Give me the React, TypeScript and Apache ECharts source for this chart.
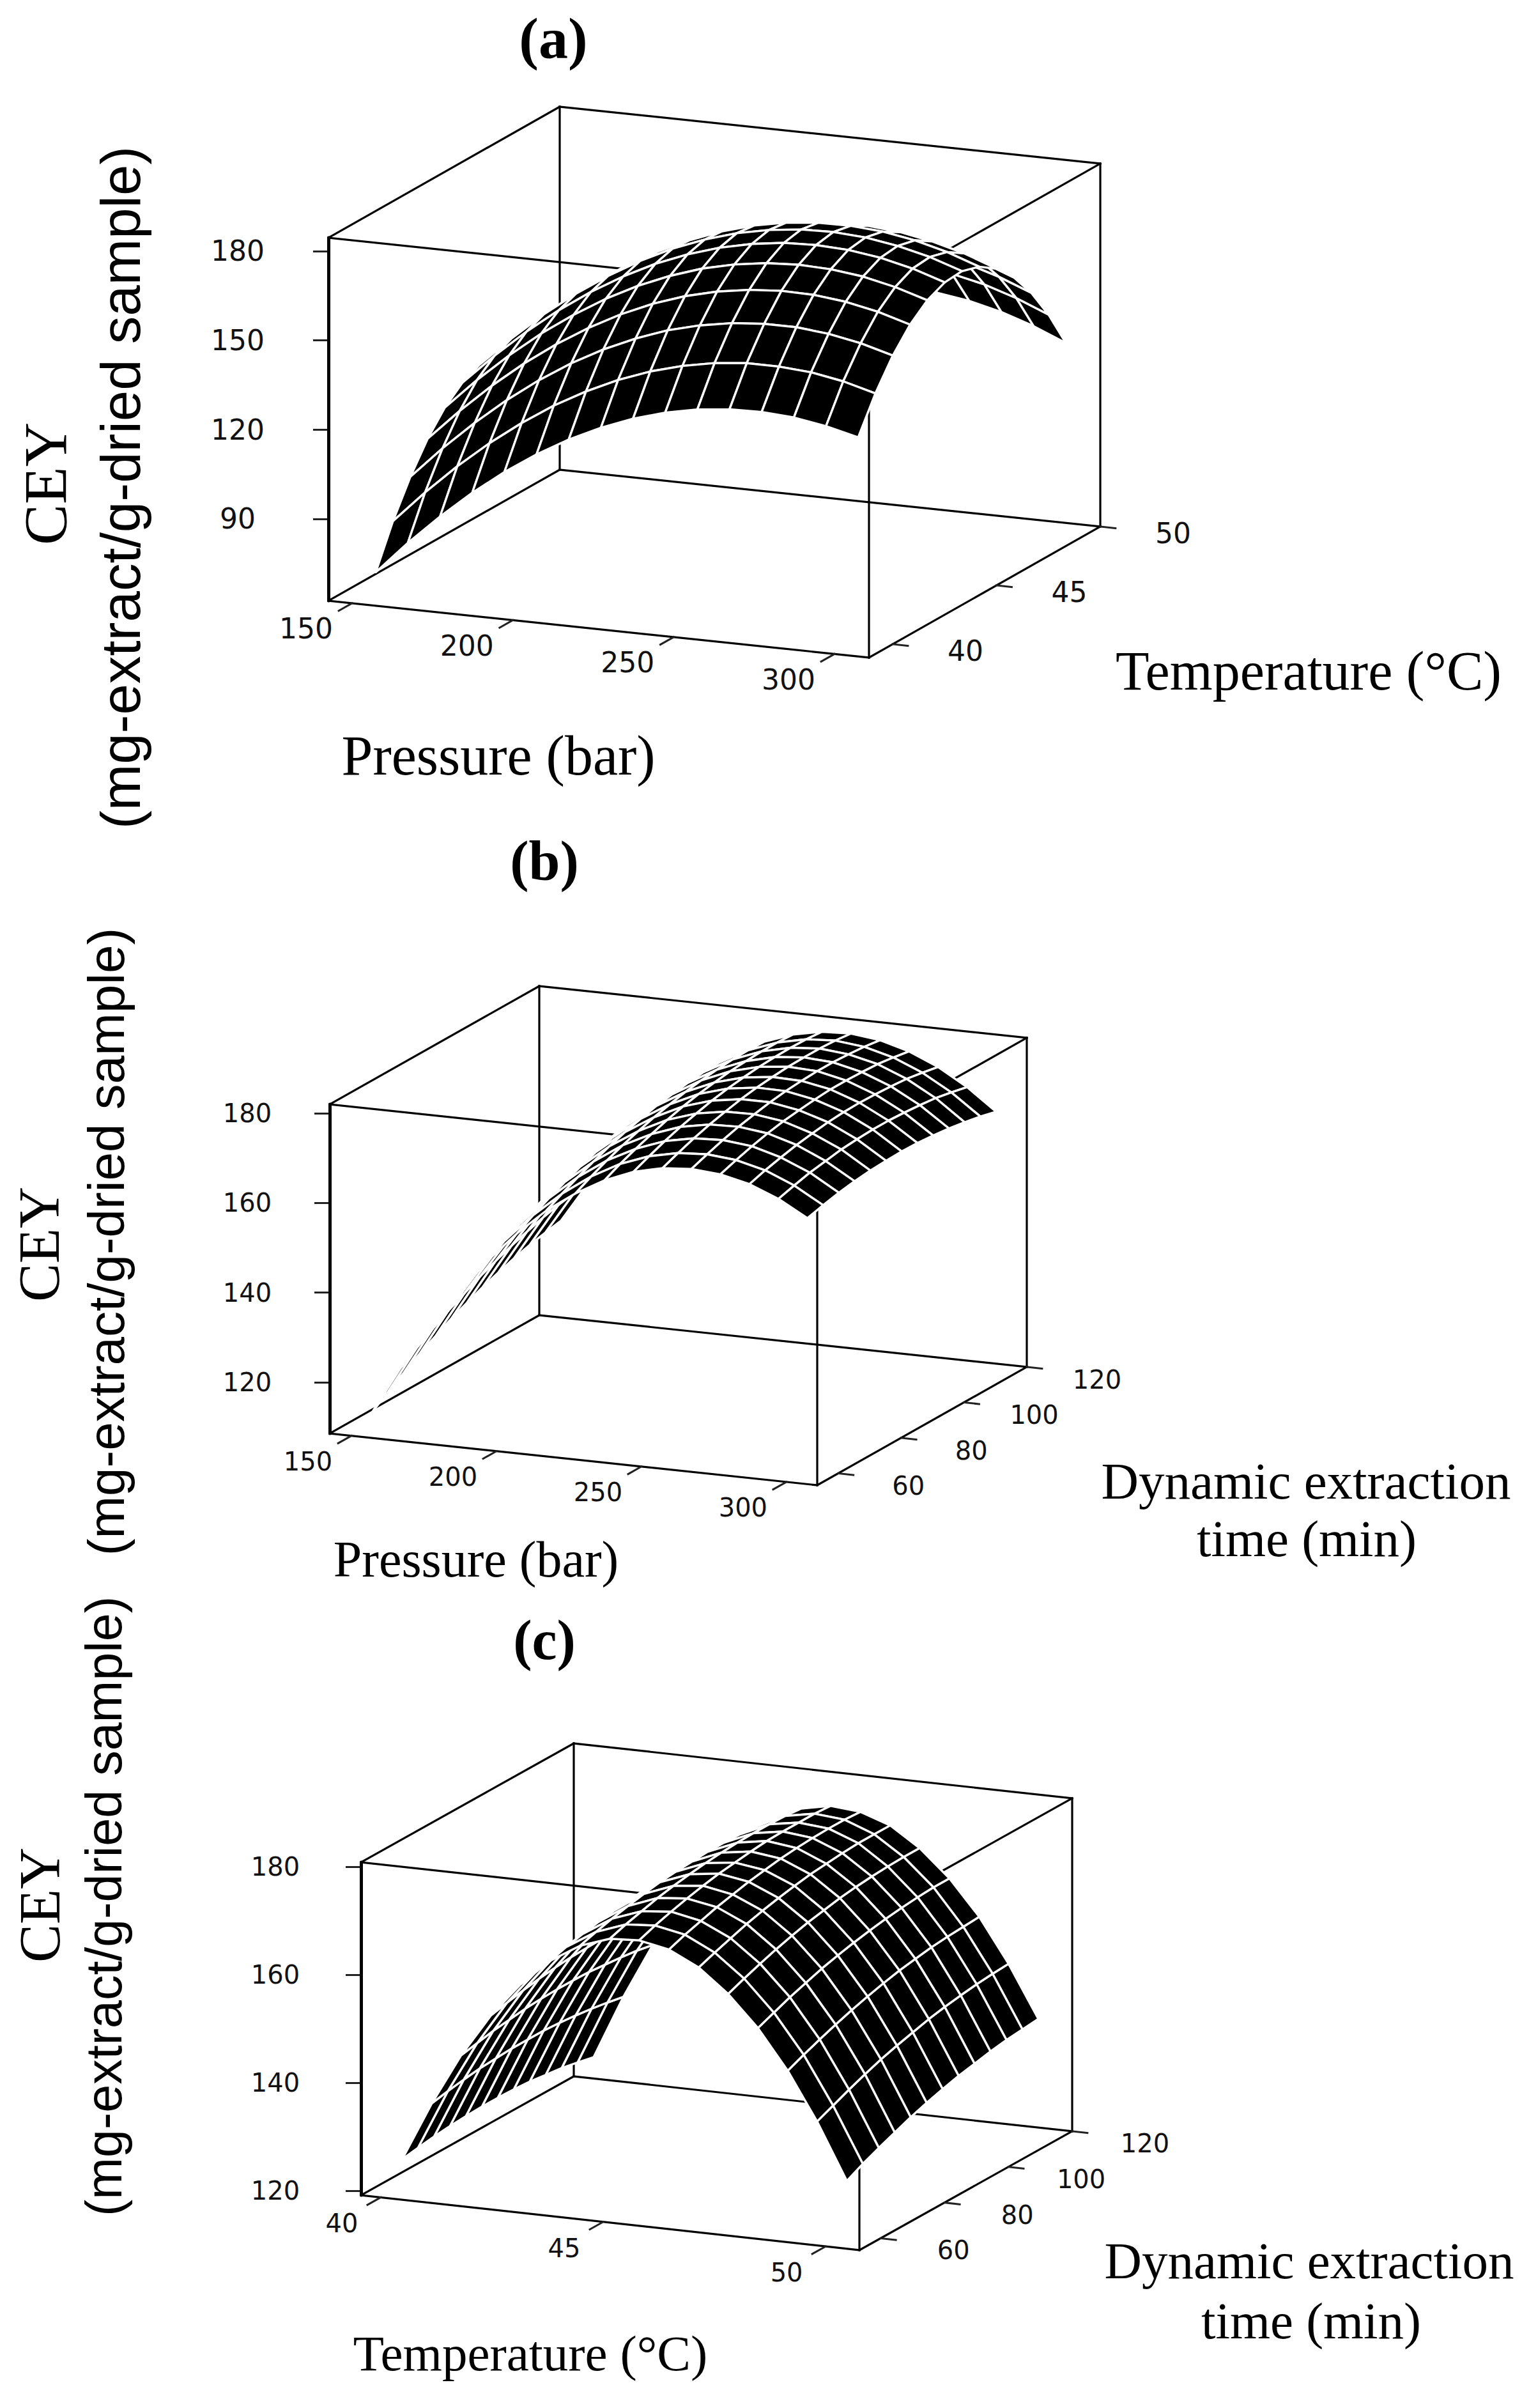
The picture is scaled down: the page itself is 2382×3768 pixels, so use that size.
import React, { useEffect, useRef } from "react";
import * as echarts from "echarts";

const PAGE_W = 2382;
const PAGE_H = 3768;

// ---------------- Panel (a): Pressure x Temperature ----------------
const PRESSURE_A = [150, 160, 170, 180, 190, 200, 210, 220, 230, 240, 250, 260, 270, 280, 290, 300];
const TEMPERATURE_A = [40, 40.83, 41.67, 42.5, 43.33, 44.17, 45, 45.83, 46.67, 47.5, 48.33, 49.17, 50];
const CEY_A = [
  [68.4, 79.4, 89.4, 98.5, 106.6, 113.7, 119.8, 124.9, 129.1, 132.3, 134.5, 135.7, 135.9, 135.2, 133.4, 130.8],
  [82.3, 93.1, 103.0, 111.9, 119.8, 126.8, 132.7, 137.7, 141.7, 144.7, 146.8, 147.9, 147.9, 147.1, 145.2, 142.3],
  [93.9, 104.6, 114.3, 123.1, 130.9, 137.7, 143.5, 148.3, 152.2, 155.0, 156.9, 157.8, 157.8, 156.7, 154.7, 151.7],
  [103.4, 113.9, 123.5, 132.1, 139.7, 146.3, 152.0, 156.7, 160.4, 163.1, 164.8, 165.6, 165.4, 164.2, 162.0, 158.8],
  [110.6, 121.0, 130.4, 138.9, 146.3, 152.8, 158.3, 162.8, 166.4, 168.9, 170.5, 171.1, 170.7, 169.4, 167.0, 163.7],
  [115.6, 125.8, 135.1, 143.4, 150.7, 157.0, 162.4, 166.7, 170.1, 172.5, 174.0, 174.4, 173.9, 172.4, 169.9, 166.4],
  [118.4, 128.4, 137.6, 145.7, 152.8, 159.0, 164.2, 168.4, 171.7, 173.9, 175.2, 175.5, 174.8, 173.1, 170.5, 166.9],
  [118.9, 128.8, 137.8, 145.8, 152.8, 158.8, 163.8, 167.9, 171.0, 173.1, 174.2, 174.3, 173.5, 171.7, 168.9, 165.1],
  [117.2, 127.0, 135.8, 143.7, 150.5, 156.4, 161.3, 165.2, 168.1, 170.0, 171.0, 171.0, 170.0, 168.0, 165.1, 161.1],
  [113.4, 123.0, 131.6, 139.3, 146.0, 151.7, 156.4, 160.2, 163.0, 164.7, 165.6, 165.4, 164.2, 162.1, 159.0, 154.9],
  [107.2, 116.7, 125.2, 132.7, 139.3, 144.8, 149.4, 153.0, 155.6, 157.2, 157.9, 157.6, 156.3, 154.0, 150.7, 146.5],
  [98.9, 108.2, 116.6, 123.9, 130.3, 135.7, 140.1, 143.6, 146.0, 147.5, 148.0, 147.6, 146.1, 143.7, 140.2, 135.8],
  [88.3, 97.5, 105.7, 112.9, 119.1, 124.4, 128.7, 131.9, 134.3, 135.6, 135.9, 135.3, 133.7, 131.1, 127.5, 123.0],
];
const PRESSURE_TICKS_A = [150, 200, 250, 300];
const TEMPERATURE_TICKS_A = [40, 45, 50];
const CEY_TICKS_A = [90, 120, 150, 180];

// ---------------- Panel (b): Pressure x Dynamic extraction time ----------------
const PRESSURE_B = [150, 160, 170, 180, 190, 200, 210, 220, 230, 240, 250, 260, 270, 280, 290, 300];
const TIME_B = [60, 65, 70, 75, 80, 85, 90, 95, 100, 105, 110, 115, 120];
const CEY_B = [
  [111.3, 122.0, 131.7, 140.4, 148.0, 154.6, 160.3, 164.8, 168.4, 171.0, 172.5, 173.0, 172.5, 171.0, 168.4, 164.8],
  [113.8, 124.4, 134.0, 142.5, 150.1, 156.6, 162.1, 166.6, 170.1, 172.5, 173.9, 174.3, 173.7, 172.1, 169.4, 165.7],
  [116.1, 126.6, 136.1, 144.5, 152.0, 158.4, 163.8, 168.2, 171.5, 173.9, 175.2, 175.5, 174.8, 173.0, 170.3, 166.5],
  [118.3, 128.7, 138.0, 146.4, 153.7, 160.0, 165.3, 169.6, 172.8, 175.1, 176.3, 176.5, 175.7, 173.8, 170.9, 167.1],
  [120.2, 130.5, 139.8, 148.1, 155.3, 161.5, 166.7, 170.8, 174.0, 176.1, 177.2, 177.3, 176.4, 174.4, 171.5, 167.5],
  [122.1, 132.3, 141.4, 149.6, 156.7, 162.8, 167.9, 171.9, 175.0, 177.0, 178.0, 178.0, 176.9, 174.9, 171.8, 167.7],
  [123.7, 133.8, 142.9, 150.9, 157.9, 163.9, 168.9, 172.8, 175.8, 177.7, 178.6, 178.5, 177.3, 175.2, 172.0, 167.8],
  [125.2, 135.2, 144.1, 152.1, 159.0, 164.9, 169.8, 173.6, 176.4, 178.2, 179.0, 178.8, 177.6, 175.3, 172.0, 167.7],
  [126.5, 136.4, 145.3, 153.1, 159.9, 165.7, 170.4, 174.2, 176.9, 178.6, 179.3, 179.0, 177.6, 175.2, 171.8, 167.4],
  [127.7, 137.5, 146.2, 153.9, 160.6, 166.3, 171.0, 174.6, 177.2, 178.8, 179.4, 179.0, 177.5, 175.0, 171.5, 167.0],
  [128.7, 138.4, 147.0, 154.6, 161.2, 166.8, 171.4, 174.9, 177.4, 178.9, 179.4, 178.8, 177.3, 174.7, 171.1, 166.4],
  [129.5, 139.1, 147.6, 155.1, 161.6, 167.1, 171.6, 175.0, 177.4, 178.8, 179.2, 178.5, 176.8, 174.1, 170.4, 165.7],
  [130.2, 139.7, 148.1, 155.5, 161.9, 167.2, 171.6, 174.9, 177.2, 178.5, 178.8, 178.0, 176.2, 173.4, 169.6, 164.8],
];
const PRESSURE_TICKS_B = [150, 200, 250, 300];
const TIME_TICKS_B = [60, 80, 100, 120];
const CEY_TICKS_B = [120, 140, 160, 180];

// ---------------- Panel (c): Temperature x Dynamic extraction time ----------------
const TEMPERATURE_C = [40, 40.67, 41.33, 42, 42.67, 43.33, 44, 44.67, 45.33, 46, 46.67, 47.33, 48, 48.67, 49.33, 50];
const TIME_C = [60, 65, 70, 75, 80, 85, 90, 95, 100, 105, 110, 115, 120];
const CEY_C = [
  [124.0, 135.0, 144.5, 152.5, 158.9, 163.8, 167.2, 169.1, 169.4, 168.3, 165.6, 161.3, 155.6, 148.3, 139.5, 129.1],
  [124.5, 135.6, 145.1, 153.2, 159.7, 164.7, 168.1, 170.1, 170.5, 169.4, 166.7, 162.5, 156.8, 149.6, 140.8, 130.6],
  [124.9, 136.1, 145.7, 153.8, 160.4, 165.4, 168.9, 170.9, 171.4, 170.3, 167.7, 163.6, 158.0, 150.8, 142.1, 131.9],
  [125.2, 136.5, 146.1, 154.3, 160.9, 166.0, 169.6, 171.7, 172.2, 171.2, 168.7, 164.6, 159.0, 151.9, 143.3, 133.1],
  [125.4, 136.7, 146.5, 154.7, 161.4, 166.5, 170.2, 172.3, 172.9, 171.9, 169.5, 165.5, 160.0, 152.9, 144.4, 134.3],
  [125.5, 136.9, 146.7, 155.0, 161.7, 166.9, 170.7, 172.8, 173.5, 172.6, 170.2, 166.3, 160.8, 153.8, 145.3, 135.3],
  [125.5, 136.9, 146.8, 155.1, 161.9, 167.2, 171.0, 173.2, 173.9, 173.1, 170.8, 166.9, 161.5, 154.6, 146.1, 136.2],
  [125.4, 136.9, 146.8, 155.2, 162.1, 167.4, 171.2, 173.5, 174.3, 173.6, 171.3, 167.5, 162.1, 155.3, 146.9, 137.0],
  [125.2, 136.7, 146.7, 155.1, 162.1, 167.5, 171.4, 173.7, 174.6, 173.9, 171.6, 167.9, 162.6, 155.8, 147.5, 137.6],
  [124.8, 136.4, 146.4, 155.0, 162.0, 167.4, 171.4, 173.8, 174.7, 174.1, 171.9, 168.2, 163.0, 156.3, 148.0, 138.2],
  [124.4, 136.0, 146.1, 154.7, 161.8, 167.3, 171.3, 173.8, 174.7, 174.2, 172.1, 168.4, 163.3, 156.6, 148.4, 138.7],
  [123.8, 135.5, 145.7, 154.3, 161.4, 167.0, 171.1, 173.7, 174.7, 174.2, 172.1, 168.5, 163.5, 156.8, 148.7, 139.0],
  [123.1, 134.9, 145.1, 153.8, 161.0, 166.7, 170.8, 173.4, 174.5, 174.0, 172.1, 168.5, 163.5, 157.0, 148.9, 139.3],
];
const TEMPERATURE_TICKS_C = [40, 45, 50];
const TIME_TICKS_C = [60, 80, 100, 120];
const CEY_TICKS_C = [120, 140, 160, 180];

// ---------------- layout (positions / styles only) ----------------
type Panel = {
  xs: number[]; ys: number[]; zs: number[][];
  xTicks: number[]; yTicks: number[]; zTicks: number[];
  xRange: [number, number]; yRange: [number, number]; zRange: [number, number];
  origin: [number, number]; ex: [number, number]; ey: [number, number]; ezLen: number;
  tickFont: number; zLabelMargin: number; zLabelLift: number;
  xLabelOff: [number, number]; yLabelOff: [number, number];
};

const PANELS: Panel[] = [
  {
    xs: PRESSURE_A, ys: TEMPERATURE_A, zs: CEY_A,
    xTicks: PRESSURE_TICKS_A, yTicks: TEMPERATURE_TICKS_A, zTicks: CEY_TICKS_A,
    xRange: [142.65, 310.72], yRange: [38.86, 50], zRange: [62.5, 184.5],
    origin: [514, 940], ex: [846, 89], ey: [362, -205], ezLen: 568,
    tickFont: 44, zLabelMargin: 142, zLabelLift: 15, xLabelOff: [-72, 40], yLabelOff: [114, 10],
  },
  {
    xs: PRESSURE_B, ys: TIME_B, zs: CEY_B,
    xTicks: PRESSURE_TICKS_B, yTicks: TIME_TICKS_B, zTicks: CEY_TICKS_B,
    xRange: [142.5, 310.6], yRange: [53.33, 120], zRange: [108.6, 182.0],
    origin: [516, 2243], ex: [763, 81], ey: [328, -185], ezLen: 515,
    tickFont: 40, zLabelMargin: 129, zLabelLift: 12, xLabelOff: [-68, 40], yLabelOff: [110, 20],
  },
  {
    xs: TEMPERATURE_C, ys: TIME_C, zs: CEY_C,
    xTicks: TEMPERATURE_TICKS_C, yTicks: TIME_TICKS_C, zTicks: CEY_TICKS_C,
    xRange: [39.555, 50.76], yRange: [53.33, 120], zRange: [119.17, 180.83],
    origin: [565, 3435], ex: [780, 86], ey: [333, -186], ezLen: 521,
    tickFont: 40, zLabelMargin: 134, zLabelLift: 15, xLabelOff: [-61, 41], yLabelOff: [114, 19],
  },
];

const SERIF = "Liberation Serif";
const SANS = "Liberation Sans";
const TICK_FONT = "DejaVu Sans";

function project(api: any, p: Panel, x: number, y: number, z: number): number[] {
  const c = api.coord([x, z]);
  const fx = (x - p.xRange[0]) / (p.xRange[1] - p.xRange[0]);
  const fy = (y - p.yRange[0]) / (p.yRange[1] - p.yRange[0]);
  return [c[0] + fy * p.ey[0], c[1] + fx * p.ex[1] + fy * p.ey[1]];
}

function textEl(text: string, x: number, y: number, size: number, family: string, weight = "normal", fill = "#111") {
  return {
    type: "text",
    style: {
      text, x, y, fill, fontSize: size, fontFamily: family, fontWeight: weight,
      align: "center", verticalAlign: "middle", textAlign: "center", textVerticalAlign: "middle",
    },
  };
}

function lineEl(a: number[], b: number[], w: number, color = "#000") {
  return {
    type: "line",
    shape: { x1: a[0], y1: a[1], x2: b[0], y2: b[1] },
    style: { stroke: color, lineWidth: w, lineCap: "square" },
  };
}

function frameSeries(p: Panel, k: number) {
  return {
    type: "custom",
    coordinateSystem: "cartesian2d",
    xAxisIndex: k,
    yAxisIndex: k,
    clip: false,
    silent: true,
    z: 1,
    data: [[p.xRange[0], p.zRange[0]]],
    renderItem: (_params: any, api: any) => {
      const P = (x: number, y: number, z: number) => project(api, p, x, y, z);
      const [x0, x1] = p.xRange;
      const [y0, y1] = p.yRange;
      const [z0, z1] = p.zRange;
      const children: any[] = [];
      const edges: number[][][] = [
        [[x0, y0, z0], [x1, y0, z0]], [[x1, y0, z0], [x1, y1, z0]], [[x1, y1, z0], [x0, y1, z0]], [[x0, y1, z0], [x0, y0, z0]],
        [[x0, y0, z1], [x1, y0, z1]], [[x1, y0, z1], [x1, y1, z1]], [[x1, y1, z1], [x0, y1, z1]], [[x0, y1, z1], [x0, y0, z1]],
        [[x0, y0, z0], [x0, y0, z1]], [[x1, y0, z0], [x1, y0, z1]], [[x1, y1, z0], [x1, y1, z1]], [[x0, y1, z0], [x0, y1, z1]],
      ];
      edges.forEach(([a, b]) => children.push(lineEl(P(a[0], a[1], a[2]), P(b[0], b[1], b[2]), 3.2)));
      const eyLen = Math.hypot(p.ey[0], p.ey[1]);
      const exLen = Math.hypot(p.ex[0], p.ex[1]);
      const TL = 24;
      p.xTicks.forEach((t) => {
        const a = P(t, y0, z0);
        const b = [a[0] - (p.ey[0] / eyLen) * TL, a[1] - (p.ey[1] / eyLen) * TL];
        children.push(lineEl(a, b, 3, "#222"));
        children.push(textEl(String(t), a[0] + p.xLabelOff[0], a[1] + p.xLabelOff[1], p.tickFont, TICK_FONT));
      });
      p.yTicks.forEach((t) => {
        const a = P(x1, t, z0);
        const b = [a[0] + (p.ex[0] / exLen) * TL, a[1] + (p.ex[1] / exLen) * TL];
        children.push(lineEl(a, b, 3, "#222"));
        children.push(textEl(String(t), a[0] + p.yLabelOff[0], a[1] + p.yLabelOff[1], p.tickFont, TICK_FONT));
      });
      return { type: "group", children };
    },
  };
}

function surfaceSeries(p: Panel, k: number) {
  const [x0, x1] = p.xRange;
  const [y0, y1] = p.yRange;
  const [z0, z1] = p.zRange;
  // viewing direction of the (oblique) projection, in normalised box units
  const dU = p.ey[0];
  const dV = -p.ex[0];
  const dW = (p.ex[1] * p.ey[0] - p.ey[1] * p.ex[0]) / p.ezLen;
  const cells: { value: number[]; key: number }[] = [];
  for (let j = 0; j < p.ys.length - 1; j++) {
    for (let i = 0; i < p.xs.length - 1; i++) {
      const xm = (p.xs[i] + p.xs[i + 1]) / 2;
      const ym = (p.ys[j] + p.ys[j + 1]) / 2;
      const zm = (p.zs[j][i] + p.zs[j][i + 1] + p.zs[j + 1][i] + p.zs[j + 1][i + 1]) / 4;
      const u = (xm - x0) / (x1 - x0);
      const v = (ym - y0) / (y1 - y0);
      const w = (zm - z0) / (z1 - z0);
      cells.push({ value: [xm, zm, i, j], key: -(dU * u + dV * v + dW * w) });
    }
  }
  cells.sort((a, b) => b.key - a.key);
  return {
    type: "custom",
    coordinateSystem: "cartesian2d",
    xAxisIndex: k,
    yAxisIndex: k,
    clip: false,
    silent: true,
    z: 3,
    data: cells.map((c) => c.value),
    renderItem: (_params: any, api: any) => {
      const i = api.value(2);
      const j = api.value(3);
      const corners = [[i, j], [i + 1, j], [i + 1, j + 1], [i, j + 1]];
      const pts = corners.map(([a, b]) => project(api, p, p.xs[a], p.ys[b], p.zs[b][a]));
      return {
        type: "polygon",
        shape: { points: pts },
        style: { fill: "#000", stroke: "#fff", lineWidth: 3.4, lineJoin: "round" },
      };
    },
  };
}

function gText(text: string, x: number, y: number, size: number, family: string, weight = "normal", rotation = 0) {
  return {
    type: "text",
    x, y, rotation,
    silent: true,
    style: {
      text, x: 0, y: 0, fill: "#000", fontSize: size, fontFamily: family, fontWeight: weight,
      align: "center", verticalAlign: "middle", textAlign: "center", textVerticalAlign: "middle",
    },
  };
}

function buildOption() {
  const grid = PANELS.map((p) => ({
    left: p.origin[0], top: p.origin[1] - p.ezLen, width: p.ex[0], height: p.ezLen,
    containLabel: false, outerBoundsMode: "none", show: false,
  }));
  const xAxis = PANELS.map((p, k) => ({
    type: "value", gridIndex: k, min: p.xRange[0], max: p.xRange[1], show: false,
  }));
  const yAxis = PANELS.map((p, k) => ({
    type: "value", gridIndex: k, min: p.zRange[0], max: p.zRange[1], position: "left",
    axisLine: { show: true, onZero: false, lineStyle: { color: "#000", width: 5 } },
    axisTick: { show: true, length: 24, customValues: p.zTicks, lineStyle: { color: "#222", width: 3 } },
    axisLabel: {
      show: true, customValues: p.zTicks, margin: p.zLabelMargin, align: "center", verticalAlign: "middle",
      padding: [0, 0, 2 * p.zLabelLift, 0], fontFamily: TICK_FONT, fontSize: p.tickFont, color: "#111",
    },
    splitLine: { show: false },
  }));
  const series: any[] = [];
  PANELS.forEach((p, k) => series.push(frameSeries(p, k)));
  PANELS.forEach((p, k) => series.push(surfaceSeries(p, k)));

  const R = Math.PI / 2;
  const graphic = [
    gText("(a)", 866, 60, 92, SERIF, "bold"),
    gText("(b)", 852, 1347, 88, SERIF, "bold"),
    gText("(c)", 852, 2566, 88, SERIF, "bold"),
    gText("CEY", 71, 757, 96, SERIF, "normal", R),
    gText("(mg-extract/g-dried sample)", 188, 763, 87, SANS, "normal", R),
    gText("CEY", 61, 1947, 90, SERIF, "normal", R),
    gText("(mg-extract/g-dried sample)", 166, 1943, 80, SANS, "normal", R),
    gText("CEY", 62, 2981, 90, SERIF, "normal", R),
    gText("(mg-extract/g-dried sample)", 162, 2983, 79, SANS, "normal", R),
    gText("Pressure (bar)", 780, 1182, 88, SERIF),
    gText("Temperature (\u00B0C)", 2048, 1050, 86, SERIF),
    gText("Pressure (bar)", 745, 2440, 80, SERIF),
    gText("Dynamic extraction", 2044, 2318, 81, SERIF),
    gText("time (min)", 2045, 2408, 81, SERIF),
    gText("Temperature (\u00B0C)", 830, 3682, 79, SERIF),
    gText("Dynamic extraction", 2049, 3538, 81, SERIF),
    gText("time (min)", 2052, 3632, 81, SERIF),
  ];

  return {
    animation: false,
    backgroundColor: "#fff",
    grid, xAxis, yAxis, series,
    graphic: { elements: graphic },
  };
}

export default function App() {
  const ref = useRef<HTMLDivElement>(null);
  useEffect(() => {
    document.body.style.margin = "0";
    const chart = echarts.init(ref.current as HTMLDivElement, undefined, { renderer: "svg", width: PAGE_W, height: PAGE_H });
    chart.setOption(buildOption() as any);
    return () => chart.dispose();
  }, []);
  return <div ref={ref} style={{ width: PAGE_W, height: PAGE_H, background: "#fff" }} />;
}
